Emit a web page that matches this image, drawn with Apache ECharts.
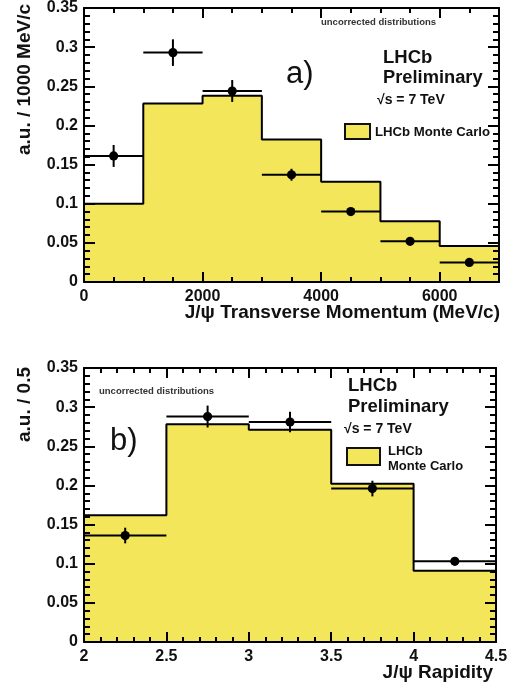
<!DOCTYPE html>
<html>
<head>
<meta charset="utf-8">
<script src="https://cdn.jsdelivr.net/npm/echarts@6/dist/echarts.min.js"></script>
<style>
html,body{margin:0;padding:0;background:#fff;}
#chart{width:518px;height:686px;}
</style>
</head>
<body>
<div id="chart"></div>
<script>
// ---- Panel a) : J/psi transverse momentum ----
const ptBinEdges = [0, 1000, 2000, 3000, 4000, 5000, 6000, 7000];
const ptMC       = [0.100, 0.228, 0.238, 0.182, 0.128, 0.0775, 0.046];
const ptData     = [0.161, 0.293, 0.244, 0.137, 0.090, 0.052, 0.025];
const ptErr      = [0.014, 0.017, 0.014, 0.0076, 0.004, 0.003, 0.003];
const ptXTicks   = { min: 0, max: 7000, interval: 2000 };

// ---- Panel b) : J/psi rapidity ----
const yBinEdges = [2, 2.5, 3, 3.5, 4, 4.5];
const yMC       = [0.162, 0.278, 0.271, 0.202, 0.091];
const yData     = [0.136, 0.288, 0.281, 0.196, 0.103];
const yErr      = [0.010, 0.014, 0.013, 0.010, 0.003];
const yXTicks   = { min: 2, max: 4.5, interval: 0.5 };

const yTicks = { min: 0, max: 0.35, interval: 0.05 };

const FONT = '"Liberation Sans", Arial, Helvetica, sans-serif';
const YELLOW = '#f3e65b';

function stepData(edges, vals) {
  const d = vals.map((v, i) => [edges[i], v]);
  d.push([edges[edges.length - 1], vals[vals.length - 1]]);
  return d;
}
function errData(edges, vals, errs) {
  return vals.map((v, i) => [(edges[i] + edges[i + 1]) / 2, v, (edges[i + 1] - edges[i]) / 2, errs[i]]);
}
function renderErr(params, api) {
  const x = api.value(0), y = api.value(1), hw = api.value(2), e = api.value(3);
  const pL = api.coord([x - hw, y]), pR = api.coord([x + hw, y]);
  const pT = api.coord([x, y + e]), pB = api.coord([x, y - e]);
  const c = api.coord([x, y]);
  const st = { stroke: '#000', lineWidth: 2 };
  return {
    type: 'group',
    children: [
      { type: 'line', shape: { x1: pL[0], y1: pL[1], x2: pR[0], y2: pR[1] }, style: st },
      { type: 'line', shape: { x1: pT[0], y1: pT[1], x2: pB[0], y2: pB[1] }, style: st },
      { type: 'circle', shape: { cx: c[0], cy: c[1], r: 4.6 }, style: { fill: '#000' } }
    ]
  };
}

function xAxisPair(gi, t, minorSplit, showMax) {
  const mk = () => ({
    type: 'value', gridIndex: gi, min: t.min, max: t.max, interval: t.interval, z: 5,
    axisLine: { show: true, onZero: false, lineStyle: { color: '#000', width: 2 } },
    axisTick: { show: true, inside: true, length: 10, lineStyle: { color: '#000', width: 2 } },
    minorTick: { show: true, splitNumber: minorSplit, length: 5, lineStyle: { color: '#000', width: 2 } },
    splitLine: { show: false }, minorSplitLine: { show: false }
  });
  return [
    Object.assign(mk(), {
      position: 'bottom',
      axisLabel: { show: true, margin: 7, showMaxLabel: showMax, formatter: v => String(v),
        fontFamily: FONT, fontWeight: 'bold', fontSize: 16, color: '#111' }
    }),
    Object.assign(mk(), { position: 'top', axisLabel: { show: false } })
  ];
}
function yAxisPair(gi) {
  const mk = () => ({
    type: 'value', gridIndex: gi, min: yTicks.min, max: yTicks.max, interval: yTicks.interval, z: 5,
    axisLine: { show: true, onZero: false, lineStyle: { color: '#000', width: 2 } },
    axisTick: { show: true, inside: true, length: 11, lineStyle: { color: '#000', width: 2 } },
    minorTick: { show: true, splitNumber: 5, length: 6, lineStyle: { color: '#000', width: 2 } },
    splitLine: { show: false }, minorSplitLine: { show: false }
  });
  return [
    Object.assign(mk(), {
      position: 'left',
      axisLabel: { show: true, margin: 6, fontFamily: FONT, fontWeight: 'bold', fontSize: 16, color: '#111' }
    }),
    Object.assign(mk(), { position: 'right', axisLabel: { show: false } })
  ];
}

function txt(x, y, text, size, opts) {
  opts = opts || {};
  return {
    type: 'text', x: x, y: y, z: 20, rotation: opts.rotation || 0,
    style: {
      text: text, fill: opts.color || '#111',
      font: (opts.weight || 'bold') + ' ' + size + 'px ' + FONT,
      textAlign: opts.align || 'left', textVerticalAlign: 'middle'
    }
  };
}

const chart = echarts.init(document.getElementById('chart'), null, { renderer: 'canvas' });
chart.setOption({
  backgroundColor: '#fff',
  animation: false,
  grid: [
    { left: 84, top: 5, width: 415, height: 277 },
    { left: 84, top: 368, width: 412, height: 274 }
  ],
  xAxis: [].concat(xAxisPair(0, ptXTicks, 4, false), xAxisPair(1, yXTicks, 5, true)),
  yAxis: [].concat(yAxisPair(0), yAxisPair(1)),
  series: [
    {
      type: 'line', xAxisIndex: 0, yAxisIndex: 0, step: 'end', symbol: 'none', z: 2,
      lineStyle: { color: '#000', width: 2 },
      areaStyle: { color: YELLOW, opacity: 1 },
      data: stepData(ptBinEdges, ptMC)
    },
    {
      type: 'custom', xAxisIndex: 0, yAxisIndex: 0, z: 3,
      renderItem: renderErr, encode: { x: 0, y: 1 },
      data: errData(ptBinEdges, ptData, ptErr)
    },
    {
      type: 'line', xAxisIndex: 2, yAxisIndex: 2, step: 'end', symbol: 'none', z: 2,
      lineStyle: { color: '#000', width: 2 },
      areaStyle: { color: YELLOW, opacity: 1 },
      data: stepData(yBinEdges, yMC)
    },
    {
      type: 'custom', xAxisIndex: 2, yAxisIndex: 2, z: 3,
      renderItem: renderErr, encode: { x: 0, y: 1 },
      data: errData(yBinEdges, yData, yErr)
    }
  ],
  graphic: [
    // axis titles
    txt(25, 4, 'a.u. / 1000 MeV/c', 19, { rotation: Math.PI / 2, align: 'right' }),
    txt(500, 313, 'J/\u03c8 Transverse Momentum (MeV/c)', 19, { align: 'right' }),
    txt(25, 367, 'a.u. / 0.5', 19, { rotation: Math.PI / 2, align: 'right' }),
    txt(493, 673, 'J/\u03c8 Rapidity', 19, { align: 'right' }),
    // panel a annotations
    txt(321, 22, 'uncorrected distributions', 9.5, { color: '#333' }),
    txt(286, 74, 'a)', 31, { weight: 'normal' }),
    txt(383, 58, 'LHCb', 18.5),
    txt(383, 78, 'Preliminary', 18.3),
    txt(377, 100, '\u221as = 7 TeV', 14),
    {
      type: 'rect', z: 20, shape: { x: 345, y: 124, width: 25, height: 15 },
      style: { fill: YELLOW, stroke: '#111', lineWidth: 2 }
    },
    txt(375, 132, 'LHCb Monte Carlo', 13.2),
    // panel b annotations
    txt(99, 391, 'uncorrected distributions', 9.5, { color: '#333' }),
    txt(110, 441, 'b)', 31, { weight: 'normal' }),
    txt(348, 386, 'LHCb', 18.5),
    txt(348, 407, 'Preliminary', 18.5),
    txt(344, 429, '\u221as = 7 TeV', 14),
    {
      type: 'rect', z: 20, shape: { x: 347, y: 448, width: 33, height: 17 },
      style: { fill: YELLOW, stroke: '#111', lineWidth: 2 }
    },
    txt(388, 451, 'LHCb', 13),
    txt(388, 466, 'Monte Carlo', 13)
  ]
});
</script>
</body>
</html>
